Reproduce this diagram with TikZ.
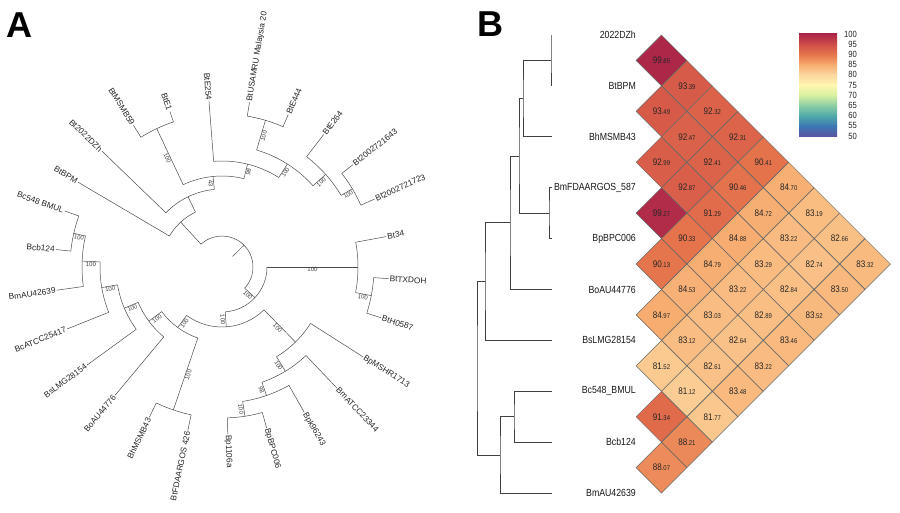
\documentclass[tikz,border=0pt]{standalone}
\usepackage{fontspec}
\setmainfont{Liberation Sans}
\newfontfamily\narrowfont[FakeStretch=0.85]{Liberation Sans}
\usetikzlibrary{shapes.geometric}

% heat map colours
\definecolor{h80}{RGB}{252,215,160}
\definecolor{h85}{RGB}{247,172,112}
\definecolor{h90}{RGB}{230,118,76}
\definecolor{h95}{RGB}{208,78,72}
\definecolor{h100}{RGB}{172,38,72}
\definecolor{c75}{RGB}{255,245,175}
\definecolor{c70}{RGB}{215,240,160}
\definecolor{c65}{RGB}{140,205,165}
\definecolor{c60}{RGB}{80,170,170}
\definecolor{c55}{RGB}{60,120,180}
\definecolor{c50}{RGB}{90,85,160}

\newcommand{\heatcol}[1]{%
  \pgfmathsetmacro{\hv}{#1}%
  \ifdim\hv pt<85pt
    \pgfmathsetmacro{\hp}{(\hv-80)*20}\colorlet{hc}{h85!\hp!h80}%
  \else\ifdim\hv pt<90pt
    \pgfmathsetmacro{\hp}{(\hv-85)*20}\colorlet{hc}{h90!\hp!h85}%
  \else\ifdim\hv pt<95pt
    \pgfmathsetmacro{\hp}{(\hv-90)*20}\colorlet{hc}{h95!\hp!h90}%
  \else
    \pgfmathsetmacro{\hp}{(\hv-95)*20}\colorlet{hc}{h100!\hp!h95}%
  \fi\fi\fi}
\newcommand{\hval}[2]{{\fontsize{9.5}{10}\selectfont#1}{\fontsize{7}{8}\selectfont.#2}}

\tikzset{
  branch/.style={draw=black!70, line width=0.5pt},
  leaflab/.style={font=\fontsize{8.3}{9}\selectfont, text=black!85, inner sep=1pt},
  boot/.style={font=\fontsize{6}{7}\selectfont, text=black!75, inner sep=0.6pt, anchor=north},
  dendro/.style={draw=black!75, line width=0.7pt},
  rowlab/.style={font=\narrowfont\fontsize{10.3}{11}\selectfont, text=black!90, anchor=east, inner sep=0pt},
  cell/.style={diamond, aspect=1, minimum width=50.9pt, minimum height=50.9pt, inner sep=0pt,
    draw=black!60, line width=0.5pt, text=black!85, font=\narrowfont},
  barlab/.style={font=\narrowfont\fontsize{9}{9}\selectfont, text=black!85, anchor=east, inner sep=0pt},
  panel/.style={font=\bfseries\fontsize{36}{36}\selectfont, anchor=base west, inner sep=0pt}
}

\begin{document}
\begin{tikzpicture}[x=1pt, y=-1pt]
\useasboundingbox[fill=white] (0,0) rectangle (900,513);
\node[panel] (pa) at (6,38) {A};
\node[panel] (pb) at (477,37) {B};

% A: circular tree, centre of the root
\begin{scope}[shift={(222,267)}, y=1pt]
  % arcs of the inner nodes: radius/from/to
  \foreach \r/\a/\b in {31/-43/132.65, 61/115.8/149.5, 78/95.65/136, 91/76.05/115.25,
      153/108.5/122, 106/57.6/94.5, 122/41.75/73.5, 153/66.5/80.5, 139/31/52.5, 152/24/38,
      45/-85.9/0, 136/-10.85/10.5, 152/-17.7/-4, 60/-126.15/-45.6, 105/-58.7/-32.5,
      122/-70.9/-46.5, 136/-81.25/-60.5, 151/-88/-74.5, 75/-143.5/-108.8, 151/-115.8/-101.8,
      91/-157.15/-129.8, 106/-170.3/-144, 122/177.6/201.8, 140/167.2/188, 152/160.4/174}
    \draw[branch] (\a:\r) arc[start angle=\a, end angle=\b, radius=\r];
  \coordinate (root) at (44.8:31);
  \draw[branch] (44.8:15) -- (root);
  \coordinate (nT) at (132.65:61);
  \draw[branch] (132.65:31) -- (nT);
  \coordinate (nT2) at (115.8:78);
  \draw[branch] (115.8:61) -- (nT2);
  % inner branches: name/angle/radius/parent radius/support
  \foreach \n/\a/\r/\p/\bs in {nT3/95.65/91/78/43, nE1/115.25/153/91/100, nT4/76.05/106/91/98,
      nT5/57.6/122/106/100, nUS/73.5/153/122/100, nT6/41.75/139/122/100, nT7/31/152/139/100,
      nB/-43/45/31/100, nBt/0/136/45/100, nTX/-10.85/152/136/100, nX/-85.9/60/45/100,
      np1/-45.6/105/60/100, np2/-58.7/122/105/100, np3/-70.9/136/122/98, np4/-81.25/151/136/100,
      nc6/-126.15/75/60/100, nhF/-108.8/151/75/100, nc5/-143.5/91/75/100, nc4/-157.15/106/91/100,
      nc3/-170.3/122/106/100, nc2/177.6/140/122/100, nc1/167.2/152/140/100}{
    \coordinate (\n) at (\a:\r);
    \draw[branch] (\a:\p) -- (\n);
    \pgfmathsetmacro{\rot}{\a>90 ? \a-180 : (\a<(-90) ? \a+180 : \a)}
    \node[boot, rotate=\rot] (\n-bs) at (\a:{(\p+\r)/2}) {\bs};
  }
  % leaves: name/angle/parent radius/tip radius/label
  \foreach \n/\a/\p/\t/\s in {bt34/10.5/136/167/Bt34, bttx/-4/152/167/BtTXDOH,
      bth/-17.7/152/167/BtH0587, bpmshr/-32.5/105/167/BpMSHR1713, bmatcc/-46.5/122/167/BmATCC23344,
      bpk/-60.5/136/167/Bpk96243, bpbpc/-74.5/151/167/BpBPC006, bp1106/-88/151/167/Bp1106a,
      btfda/-101.8/151/167/BtFDAARGOS 426, bhmsmb/-115.8/151/167/BhMSMB43,
      boau/-129.8/91/167/BoAU44776, bslmg/-144/106/167/BsLMG28154, bcatcc/-158.2/122/167/BcATCC25417,
      bmau/-172/140/167/BmAU42639, bcb/174/152/167/Bcb124, bc548/160.4/152/167/Bc548 BMUL,
      btbpm/149.5/61/167/BtBPM, bt2022/136/78/167/Bt2022DZh, btmsmb/122/153/167/BtMSMB59,
      bte1/108.5/153/164/BtE1, bte254/94.5/106/166/BtE254, btusa/80.5/153/167/BtUSAMRU Malaysia 20,
      bte444/66.5/153/166/BtE444, bte264/52.5/139/167/BtE264, bt1643/38/152/166/Bt2002721643,
      bt1723/24/152/167/Bt2002721723}{
    \pgfmathsetmacro{\rot}{\a>90 ? \a-180 : (\a<(-90) ? \a+180 : \a)}
    \pgfmathsetmacro{\side}{abs(\a)>90 ? 1 : 0}
    \ifdim\side pt>0.5pt \def\anc{east}\else\def\anc{west}\fi
    \node[leaflab, rotate=\rot, anchor=\anc] (\n) at (\a:\t) {\s};
    \draw[branch] (\a:\p) -- (\n.\anc);
  }
\end{scope}

% B: dendrogram
\foreach \n/\x/\y in {t0/551/35, t1/551/85.9, t2/552/136.8, t3/552/187.7, t4/552/238.6,
    t5/552/289.5, t6/552/340.4, t7/552/391.3, t8/552/442.2, t9/552/493.1,
    d1/551/60.45, d2/523/98.6, d3/549/213.15, d4/519/155.9, d5/510/222.7,
    d6/485/281.55, d7/514/416.75, d8/500/454.9, d9/477/368.2}
  \coordinate (\n) at (\x,\y);
\foreach \ca/\nd/\cb in {t0/d1/t1, d1/d2/t2, t3/d3/t4, d2/d4/d3, d4/d5/t5, d5/d6/t6,
    t7/d7/t8, d7/d8/t9, d6/d9/d8}
  \draw[dendro] (\ca) -| (\nd) |- (\cb);

% B: row labels
\foreach \n/\s [count=\k from 0] in {ldzh/2022DZh, lbpm/BtBPM, lbh/BhMSMB43, lbm/BmFDAARGOS\_587,
    lbp/BpBPC006, lbo/BoAU44776, lbs/BsLMG28154, lbc/Bc548\_BMUL, lbcb/Bcb124, lbma/BmAU42639}
  \node[rowlab] (\n) at (636,{35+50.9*\k}) {\s};

% B: identity cells, row i / row j / value
\foreach \i/\j/\vi/\vd in {0/1/99/85, 0/2/93/39, 1/2/93/49, 0/3/92/32, 1/3/92/47, 0/4/92/31,
    2/3/92/99, 1/4/92/41, 0/5/90/41, 2/4/92/87, 1/5/90/46, 0/6/84/70, 3/4/99/27, 2/5/91/29,
    1/6/84/72, 0/7/83/19, 3/5/90/33, 2/6/84/88, 1/7/83/22, 0/8/82/66, 4/5/90/13, 3/6/84/79,
    2/7/83/29, 1/8/82/74, 0/9/83/32, 4/6/84/53, 3/7/83/22, 2/8/82/84, 1/9/83/50, 5/6/84/97,
    4/7/83/03, 3/8/82/89, 2/9/83/52, 5/7/83/12, 4/8/82/64, 3/9/83/46, 6/7/81/52, 5/8/82/61,
    4/9/83/22, 6/8/81/12, 5/9/83/48, 7/8/91/34, 6/9/81/77, 7/9/88/21, 8/9/88/07}{
  \heatcol{\vi.\vd}
  \node[cell, fill=hc] (c\i\j) at ({636+25.45*(\j-\i)},{35+25.45*(\i+\j)}) {\hval{\vi}{\vd}};
}

% B: colour bar
\foreach \ca/\cb [count=\k from 0] in {h100/h95, h95/h90, h90/h85, h85/h80, h80/c75,
    c75/c70, c70/c65, c65/c60, c60/c55, c55/c50}
  \shade[top color=\ca, bottom color=\cb] (799,{34+10.2*\k}) rectangle (837,{44.6+10.2*\k});
\foreach \v [count=\k from 0] in {100,95,...,50}
  \node[barlab] (bl\k) at (857,{34+10.2*\k}) {\v};
\end{tikzpicture}
\end{document}
